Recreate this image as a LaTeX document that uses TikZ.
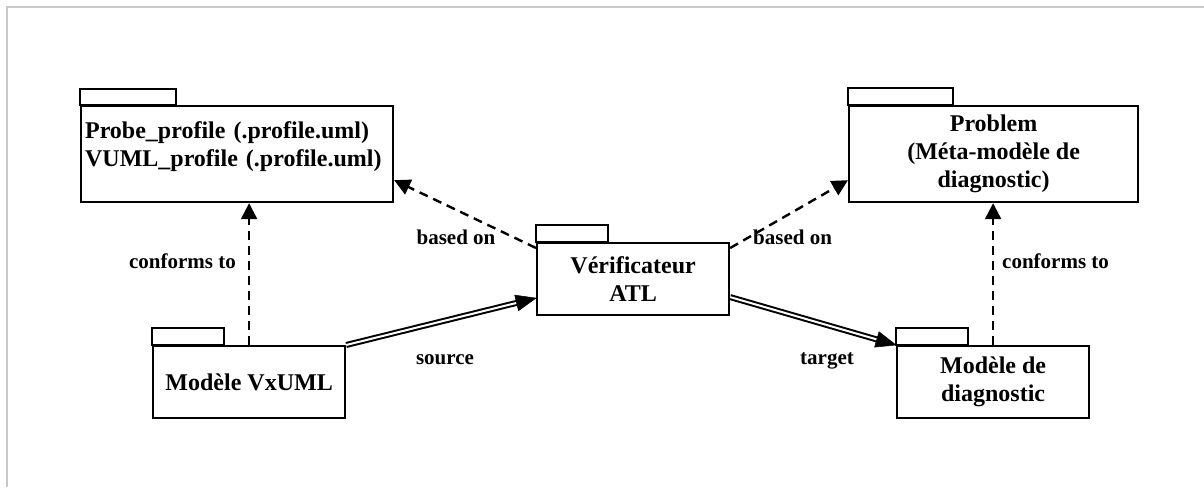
\documentclass[tikz,border=0pt]{standalone}
\usepackage{fontspec}
\setmainfont{Liberation Serif}
\usetikzlibrary{arrows.meta,calc}
\definecolor{framegray}{RGB}{200,200,200}
\tikzset{
  pkg/.style={draw, line width=2.2pt, anchor=north west, inner sep=0pt,
    font=\fontsize{24}{28}\selectfont\bfseries, align=center},
  pkgtab/.style={draw, line width=2.2pt},
  dep/.style={line width=2.4pt, dash pattern=on 9pt off 6pt,
    -{Triangle[length=16pt,width=16pt]}},
  flow/.style={double, double distance=2pt, line width=2pt, shorten >=16pt},
  flowtip/.style={fill=black, draw=black, line width=0.5pt, line join=miter}
}
\tikzset{
  lbl/.style={font=\fontsize{21}{24}\selectfont\bfseries, inner sep=0pt}
}
\begin{document}
\begin{tikzpicture}[x=1pt,y=-1pt]
\useasboundingbox (0,0) rectangle (1204,487);
\draw[framegray, line width=2pt] (7,487) -- (7,7) -- (1204,7);

% packages
\node[pkg, minimum width=312pt, minimum height=96pt, text width=304pt, align=left]
  (probe) at (80,105) {Probe\_profile (.profile.uml)\\VUML\_profile (.profile.uml)\\[-16pt]\strut};
\draw[pkgtab] (probe.north west) rectangle ++(96,-16);

\node[pkg, minimum width=289pt, minimum height=96pt]
  (problem) at (848,105) {Problem\\(Méta-modèle de\\diagnostic)};
\draw[pkgtab] (problem.north west) rectangle ++(105,-17);

\node[pkg, minimum width=192pt, minimum height=72pt]
  (verif) at (536,242) {Vérificateur\\ATL};
\draw[pkgtab] (verif.north west) rectangle ++(72,-17);

\node[pkg, minimum width=192pt, minimum height=72pt]
  (vxuml) at (152,345) {Modèle VxUML};
\draw[pkgtab] (vxuml.north west) rectangle ++(72,-17);

\node[pkg, minimum width=192pt, minimum height=72pt]
  (diag) at (896,345) {Modèle de\\diagnostic};
\draw[pkgtab] (diag.north west) rectangle ++(72,-17);

% connectors
\draw[dep] (vxuml.north) -- (vxuml.north |- probe.south);
\draw[dep] (diag.north) -- (diag.north |- problem.south);
\draw[dep] ([yshift=-6pt]verif.north west) -- ([yshift=23pt]probe.south east);
\draw[dep] ([yshift=-6pt]verif.north east) -- ([yshift=23pt]problem.south west);

\coordinate (srcend) at ([yshift=-19pt]verif.west);
\coordinate (tgtstart) at ([yshift=-18pt]verif.east);
\draw[flow] (vxuml.north east) -- (srcend);
\coordinate (sb) at ($(srcend)!20pt!(vxuml.north east)$);
\filldraw[flowtip] (srcend) -- ($(sb)!8pt!90:(srcend)$) -- ($(sb)!8pt!-90:(srcend)$) -- cycle;
\draw[flow] (tgtstart) -- (diag.north west);
\coordinate (tb) at ($(diag.north west)!20pt!(tgtstart)$);
\filldraw[flowtip] (diag.north west) -- ($(tb)!8pt!90:(diag.north west)$) -- ($(tb)!8pt!-90:(diag.north west)$) -- cycle;

% labels
\node[lbl, anchor=base east] (l1) at (236,268) {conforms to};
\node[lbl, anchor=base west] (l2) at (1002,268) {conforms to};
\node[lbl, anchor=base] (l3) at (456,244) {based on};
\node[lbl, anchor=base west] (l4) at (753,244) {based on};
\node[lbl, anchor=base] (l5) at (445,364) {source};
\node[lbl, anchor=base] (l6) at (827,364) {target};
\end{tikzpicture}
\end{document}
